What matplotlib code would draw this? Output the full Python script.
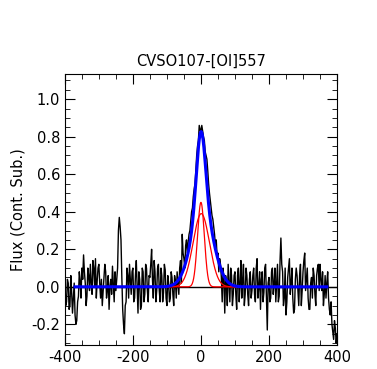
import numpy as np
import matplotlib
matplotlib.use('Agg')
import matplotlib.pyplot as plt
from matplotlib.ticker import MultipleLocator

plt.rcParams['axes.unicode_minus'] = False

# observed spectrum, read at 5 km/s steps from -400 to 400
vel_start = -400
vel_step = 5
flux = [0.05, -0.08, 0.02, -0.10, -0.03, -0.06, -0.15, -0.18, -0.05, 0.03,
        0.10, 0.17, 0.02, -0.05, 0.06, 0.12, -0.04, 0.10, 0.15, 0.03,
        0.12, -0.06, -0.10, 0.05, 0.08, -0.02, -0.12, 0.04, 0.11, -0.08,
        -0.02, 0.10, 0.37, 0.25, -0.12, -0.25, -0.08, 0.06, 0.12, -0.04,
        0.10, -0.06, 0.14, -0.14, 0.04, -0.10, 0.08, -0.04, 0.10, -0.08,
        0.05, 0.20, -0.06, 0.08, -0.02, 0.12, -0.08, 0.06, -0.03, 0.09,
        -0.10, 0.02, -0.06, 0.05, -0.10, 0.03, 0.08, -0.04, 0.14, 0.28,
        0.15, 0.22, 0.18, 0.28, 0.35, 0.42, 0.52, 0.62, 0.75, 0.86,
        0.82, 0.83, 0.78, 0.70, 0.62, 0.50, 0.42, 0.36, 0.28, 0.25,
        0.18, 0.15, 0.05, 0.10, -0.14, 0.02, 0.12, -0.08, 0.06, -0.04,
        0.08, -0.12, 0.10, 0.02, -0.06, 0.12, -0.04, 0.06, -0.10, 0.08,
        -0.02, 0.10, -0.08, 0.15, 0.00, -0.12, 0.08, -0.03, 0.12, -0.23,
        0.05, -0.06, 0.10, 0.02, -0.08, 0.12, -0.05, 0.26, 0.08, -0.06,
        -0.15, 0.05, 0.15, 0.02, -0.06, -0.12, 0.10, -0.02, 0.06, -0.10,
        0.08, 0.18, 0.04, -0.06, -0.12, 0.05, 0.10, -0.04, 0.06, 0.12,
        0.12, -0.02, -0.10, 0.06, 0.02, -0.06, -0.15, -0.20, -0.28, -0.22,
        -0.25]

# in-between samples, at -397.5, -392.5, ... 397.5 km/s
flux_mid = [-0.10, 0.04, -0.12, 0.06, -0.14, 0.02, -0.20, -0.08, 0.08, -0.06,
            0.04, 0.08, -0.10, 0.10, -0.02, 0.02, 0.14, 0.00, -0.06, 0.10,
            0.02, 0.04, -0.02, 0.12, -0.06, 0.06, 0.00, -0.04, 0.02, 0.08,
            0.04, 0.30, 0.32, 0.05, -0.20, -0.10, 0.10, -0.06, 0.04, 0.08,
            -0.08, 0.06, 0.00, 0.08, -0.12, 0.10, -0.08, 0.12, -0.02, 0.06,
            0.12, 0.04, 0.14, -0.08, 0.10, -0.02, 0.10, -0.08, 0.12, -0.06,
            0.06, -0.08, 0.08, -0.04, 0.06, -0.06, 0.02, 0.10, 0.02, 0.18,
            0.10, 0.25, 0.24, 0.30, 0.40, 0.48, 0.55, 0.70, 0.78, 0.84,
            0.86, 0.80, 0.72, 0.68, 0.55, 0.46, 0.38, 0.32, 0.22, 0.16,
            0.08, 0.12, -0.08, 0.04, 0.06, -0.10, 0.02, 0.10, -0.10, 0.06,
            -0.04, 0.06, -0.08, 0.14, 0.04, -0.10, 0.10, -0.04, 0.04, -0.06,
            0.06, -0.04, 0.10, -0.06, 0.08, 0.04, -0.08, 0.10, -0.06, 0.02,
            -0.08, 0.08, -0.04, 0.10, 0.02, -0.08, 0.14, 0.12, -0.10, 0.10,
            -0.08, 0.10, -0.04, 0.10, -0.14, 0.04, 0.06, -0.10, 0.12, -0.02,
            0.14, -0.02, 0.10, -0.12, 0.02, -0.06, 0.06, -0.10, 0.10, -0.02,
            0.04, 0.08, -0.04, -0.06, 0.08, -0.12, -0.08, -0.24, -0.18, -0.30]

# gaussian fit parameters (amplitude, centre km/s, sigma km/s)
narrow = [0.45, 0.0, 10.0]
broad = [0.39, 1.0, 24.0]
total = [[0.42, 0.0, 13.0], [0.41, 4.0, 32.0]]
fit_range = [-370, 370]

vel = vel_start + vel_step*np.arange(len(flux))
vel_mid = vel_start + vel_step/2 + vel_step*np.arange(len(flux_mid))
v_all = np.concatenate([vel, vel_mid])
f_all = np.concatenate([flux, flux_mid])
order = np.argsort(v_all)
v_all, f_all = v_all[order], f_all[order]

def gauss(v, p):
    a, c, s = p
    return a*np.exp(-(v-c)**2/(2*s**2))

vfit = np.linspace(fit_range[0], fit_range[1], 1500)

fig = plt.figure(figsize=(3.77, 3.69), dpi=100)
ax = fig.add_axes([0.172, 0.065, 0.722, 0.735])

ax.axhline(0, color='k', lw=1.0)
ax.plot(v_all, f_all, color='k', lw=1.0)
ax.plot(vfit, gauss(vfit, narrow), color='r', lw=0.9)
ax.plot(vfit, gauss(vfit, broad), color='r', lw=0.9)
ax.plot(vfit, gauss(vfit, total[0]) + gauss(vfit, total[1]), color='b', lw=2.2)

ax.set_xlim(-400, 400)
ax.set_ylim(-0.31, 1.135)
ax.xaxis.set_major_locator(MultipleLocator(200))
ax.xaxis.set_minor_locator(MultipleLocator(50))
ax.yaxis.set_major_locator(MultipleLocator(0.2))
ax.yaxis.set_minor_locator(MultipleLocator(0.05))
ax.tick_params(which='both', direction='in', top=True, right=True, labelsize=10.5)
ax.tick_params(which='major', length=7)
ax.tick_params(which='minor', length=3.5)

ax.set_title('CVSO107-[OI]557', fontsize=10.5)
ax.set_ylabel('Flux (Cont. Sub.)', fontsize=10.5)
# the x label sits mostly below the figure edge, as in the original
ax.set_xlabel('v (km s$^{-1}$)', fontsize=10.5)

fig.savefig('out.png', dpi=100)
